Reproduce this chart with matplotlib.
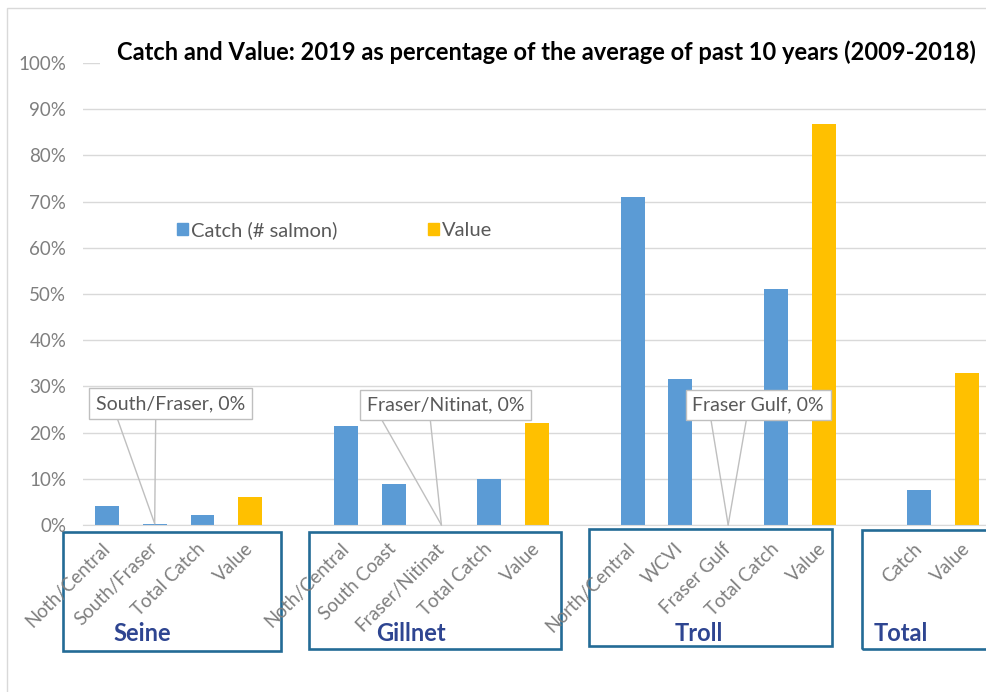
import numpy as np
import matplotlib
matplotlib.use("Agg")
import matplotlib.pyplot as plt
from matplotlib.patches import Patch, Rectangle

plt.rcParams['font.family'] = ['Lato', 'DejaVu Sans']

# Chart data
labels = ["Noth/Central", "South/Fraser", "Total Catch", "Value", "",
          "Noth/Central", "South Coast", "Fraser/Nitinat", "Total Catch", "Value", "",
          "North/Central", "WCVI", "Fraser Gulf", "Total Catch", "Value", "",
          "Catch", "Value"]
values = [0.041, 0.003, 0.022, 0.060, np.nan,
          0.214, 0.089, 0.0, 0.100, 0.220, np.nan,
          0.711, 0.316, 0.0, 0.510, 0.868, np.nan,
          0.076, 0.328]
series = ["Catch", "Catch", "Catch", "Value", "",
          "Catch", "Catch", "Catch", "Catch", "Value", "",
          "Catch", "Catch", "Catch", "Catch", "Value", "",
          "Catch", "Value"]
group_names = ["Seine", "Gillnet", "Troll", "Total"]
callout_idx = [1, 7, 13]

colors = {"Catch": "#5b9bd5", "Value": "#ffc000", "": "none"}
gray = "#7f7f7f"
box_col = "#236b96"
name_col = "#2e4591"

fig = plt.figure(figsize=(9.86, 6.92), dpi=100)
ax = fig.add_axes([83 / 986, 1 - 525 / 692, 908 / 986, 462 / 692])

x = np.arange(len(labels))
ax.bar(x, np.nan_to_num(values), width=0.5, color=[colors[s] for s in series], zorder=2)

ax.set_xlim(-0.5, len(labels) - 0.5)
ax.set_ylim(0, 1.0)
ax.set_yticks(np.arange(0, 1.01, 0.1))
ax.set_yticklabels([f"{v:.0%}" for v in np.arange(0, 1.01, 0.1)], color=gray, fontsize=13.5)
ax.yaxis.grid(True, color="#d9d9d9", lw=1, zorder=0)
ax.tick_params(axis='y', length=0, pad=12)
for s in ["top", "right", "left"]:
    ax.spines[s].set_visible(False)
ax.spines["bottom"].set_color("#d9d9d9")

ax.set_xticks(x)
ax.set_xticklabels(labels, rotation=45, ha='right', va='center', rotation_mode='anchor',
                   color=gray, fontsize=13.5)
ax.tick_params(axis='x', length=0, pad=15)

# Legend
handles = [Patch(color=colors["Catch"], label="Catch (# salmon)"),
           Patch(color=colors["Value"], label="Value")]
ax.legend(handles=handles, loc='center left', bbox_to_anchor=(0.1035, 0.6385), ncol=2,
          frameon=False, fontsize=14.5, labelcolor="#595959", handlelength=0.55,
          handleheight=0.55, handletextpad=0.15, columnspacing=4.5,
          borderpad=0, borderaxespad=0)

# Callouts for zero bars
callout_box = [16, 4, 30]
callout_lines = [(-37, 1), (-59, -11), (-17, 18)]
for i, bx, (l1, l2) in zip(callout_idx, callout_box, callout_lines):
    for dx in (l1, l2):
        ax.annotate('', xy=(i, values[i]), xytext=(dx, 104), textcoords='offset pixels',
                    arrowprops=dict(arrowstyle='-', color='#bfbfbf', lw=1,
                                    shrinkA=0, shrinkB=0), zorder=3)
    ax.annotate(f"{labels[i]}, {values[i]:.0%}", xy=(i, values[i]), xytext=(bx, 120),
                textcoords='offset pixels', ha='center', va='center', fontsize=14,
                color="#595959", zorder=4,
                bbox=dict(boxstyle='square,pad=0.35', fc='white', ec='#bfbfbf', lw=1))

# Group boxes under the axis
box_x = [(-0.92, 3.64), (4.23, 9.5), (10.08, 15.17), (15.8, 19.5)]
box_y = [(-0.273, -0.015), (-0.269, -0.015), (-0.262, -0.009), (-0.268, -0.011)]
name_x = [0.75, 6.36, 12.38, 16.05]
name_ha = ['center', 'center', 'center', 'left']
for name, (x0, x1), (y0, y1), nx, ha in zip(group_names, box_x, box_y, name_x, name_ha):
    ax.add_patch(Rectangle((x0, y0), x1 - x0, y1 - y0, fill=False, ec=box_col, lw=1.9,
                           clip_on=False, zorder=1))
    ax.text(nx, -0.234, name, ha=ha, va='center', fontsize=17, fontweight='bold',
            color=name_col)

# Title
fig.text(117 / 986, 1 - 52 / 692,
         "Catch and Value: 2019 as percentage of the average of past 10 years (2009-2018)",
         ha='left', va='center', fontsize=17, fontweight='bold', color='black',
         bbox=dict(fc='white', ec='none', pad=12))

# Outer chart frame
fig.add_artist(Rectangle((7 / 986, -0.1), 1.2, 1.1 - 8 / 692, transform=fig.transFigure,
                         fill=False, ec="#d9d9d9", lw=1))

fig.savefig("out.png", dpi=100)
